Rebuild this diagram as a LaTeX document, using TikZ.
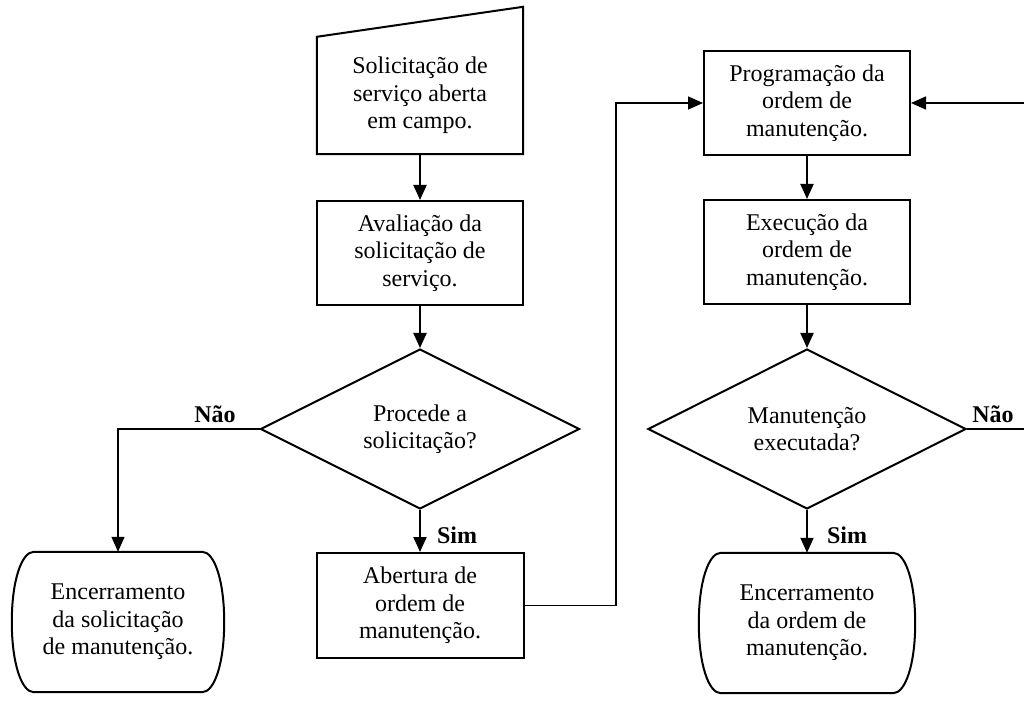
\documentclass[tikz,border=0pt]{standalone}
\usepackage{fontspec}
\setmainfont{Liberation Serif}
\usetikzlibrary{shapes.geometric,arrows.meta,calc}

\tikzset{
  outline/.style={draw=black, line width=2pt},
  procbox/.style={outline, rectangle, minimum width=206pt, minimum height=104pt,
    inner sep=0pt, align=center},
  inbox/.style={rectangle, minimum width=206pt, minimum height=117pt,
    inner sep=0pt, align=center},
  decision/.style={outline, diamond, aspect=2, minimum width=319pt,
    minimum height=160pt, inner sep=0pt, align=center},
  termbox/.style={rectangle, minimum height=140pt, inner sep=0pt, align=center},
  flow/.style={line width=2pt, -{Triangle[length=15pt,width=13pt]}},
  thinflow/.style={line width=1.5pt, -{Triangle[length=15pt,width=13pt]}},
  branch/.style={line width=1.2pt, -{Triangle[length=15pt,width=13pt]}},
  answer/.style={font={\fontsize{24}{27.5}\selectfont\bfseries}, inner sep=0pt},
}

% terminal outline: flat top and bottom, bulging sides
\newcommand\terminalpath[1]{%
  \draw[outline]
    ($(#1.north west)+(22pt,0)$) -- ($(#1.north east)+(-22pt,0)$)
    .. controls ($(#1.north east)+(-10pt,0)$) and ($(#1.east)+(0,42pt)$) .. (#1.east)
    .. controls ($(#1.east)+(0,-42pt)$) and ($(#1.south east)+(-10pt,0)$) .. ($(#1.south east)+(-22pt,0)$)
    -- ($(#1.south west)+(22pt,0)$)
    .. controls ($(#1.south west)+(10pt,0)$) and ($(#1.west)+(0,-42pt)$) .. (#1.west)
    .. controls ($(#1.west)+(0,42pt)$) and ($(#1.north west)+(10pt,0)$) .. ($(#1.north west)+(22pt,0)$)
    -- cycle;}

\begin{document}
\begin{tikzpicture}[x=1pt, y=1pt,
  every node/.append style={font=\fontsize{24}{27.5}\selectfont}]
  \useasboundingbox (0,0) rectangle (1024,702);

  % left column
  \node[inbox] (m1) at (420,606.5) {Solicitação de\\serviço aberta\\em campo.};
  \draw[outline] (m1.south west) -- (m1.north west)
    -- ($(m1.north east)+(0,30pt)$) -- (m1.south east) -- cycle;
  \node[procbox] (a1) at (420,449) {Avaliação da\\solicitação de\\serviço.};
  \node[decision] (d1) at (420,273) {Procede a\\solicitação?};
  \node[procbox, minimum width=207pt, minimum height=105pt] (ab1) at (420,96.5)
    {Abertura de\\ordem de\\manutenção.};
  \node[termbox, minimum width=212pt] (t1) at (118,80)
    {Encerramento\\da solicitação\\de manutenção.};
  \terminalpath{t1}

  % right column
  \node[procbox] (p1) at (807,599) {Programação da\\ordem de\\manutenção.};
  \node[procbox] (e1) at (807,450) {Execução da\\ordem de\\manutenção.};
  \node[decision, minimum width=318pt] (d2) at (807,273) {Manutenção\\executada?};
  \node[termbox, minimum width=216pt] (t2) at (807,79)
    {Encerramento\\da ordem de\\manutenção.};
  \terminalpath{t2}

  % connectors
  \draw[flow] (m1.south) -- (a1.north);
  \draw[flow] (a1.south) -- (d1.north);
  \draw[flow] (d1.south) -- (ab1.north);
  \draw[branch] (d1.west) -| (t1.north);
  \coordinate (j1) at (616,599);
  \draw[thinflow] (ab1.east) -| (j1) -- (p1.west);

  \draw[flow] (p1.south) -- (e1.north);
  \draw[flow] (e1.south) -- (d2.north);
  \draw[flow] (d2.south) -- (t2.north);
  \coordinate (r1) at (1040,599);
  \draw[thinflow] (d2.east) -| (r1) -- (p1.east);

  % branch labels
  \node[answer] (n1) at (215,288) {Não};
  \node[answer] (s1) at (457,167) {Sim};
  \node[answer] (n2) at (993,288) {Não};
  \node[answer] (s2) at (847,167) {Sim};
\end{tikzpicture}
\end{document}
